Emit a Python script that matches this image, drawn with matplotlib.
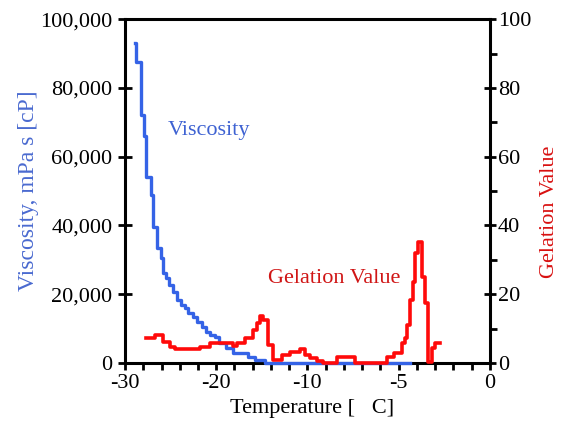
import matplotlib
matplotlib.use("Agg")
import matplotlib.pyplot as plt
import numpy as np
from matplotlib.ticker import FuncFormatter

plt.rcParams['font.family'] = ['Liberation Serif', 'DejaVu Serif']

# viscosity (mPa s), step data
visc_temp = [-28.90, -28.84, -28.28, -27.95, -27.67, -27.18, -26.90, -26.53,
             -26.09, -25.80, -25.51, -25.15, -24.71, -24.33, -23.90, -23.42,
             -23.06, -22.52, -22.08, -21.59, -21.12, -20.68, -20.14, -19.70,
             -18.93, -18.13, -16.52, -15.75, -14.66, -4.38]
visc_val = [93100, 87600, 72100, 66000, 54200, 48800, 39600, 33300,
            30400, 26200, 24700, 22700, 20700, 18300, 16900, 16000,
            14600, 13400, 12000, 10500, 9100, 8100, 7600, 5800,
            4400, 2900, 1800, 900, 100, 0]

# gelation value
gel_temp = [-27.70, -26.71, -25.80, -25.07, -24.52, -21.78, -20.68, -18.13,
            -17.73, -16.85, -15.94, -15.57, -15.21, -14.84, -14.30, -13.75,
            -12.83, -11.92, -10.82, -10.27, -9.86, -9.50, -9.13, -8.38,
            -7.40, -5.64, -5.26, -4.84, -4.66, -4.56, -4.38, -4.20,
            -4.08, -3.92, -3.74, -3.56, -3.38, -3.19, -3.01, -2.74]
gel_val = [7.2, 8.1, 6.2, 4.7, 4.0, 4.6, 5.7, 5.0,
           5.9, 7.2, 9.6, 11.5, 13.7, 12.5, 5.2, 0.9,
           2.3, 3.3, 4.0, 2.3, 1.4, 0.5, 0.0, 1.8,
           0.0, 1.8, 2.8, 5.7, 7.2, 11.0, 18.3, 23.6,
           31.9, 35.3, 25.1, 17.4, 0.4, 4.3, 5.7, 5.7]

x_major = [-30, -20, -10, -5, 0]
x_minor = [-28, -26, -24, -22, -18, -16, -14, -12, -9, -8, -7, -6, -4, -3, -2, -1]

blue = "#3563e6"
red = "#ff0a0a"


# the axis is squeezed below -10: 2 degrees per tick there, 1 degree above
def fwd(t):
    t = np.asarray(t, dtype=float)
    return np.where(t < -10, (t + 30) / 2, t + 20)


def inv(p):
    p = np.asarray(p, dtype=float)
    return np.where(p < 10, 2 * p - 30, p - 20)


fig = plt.figure(figsize=(5.61, 4.26), dpi=100)
ax = fig.add_axes([0.223, 0.148, 0.650, 0.807])
ax.set_xscale('function', functions=(fwd, inv))
ax.set_xlim(-30, 0)
ax.set_ylim(0, 100000)

ax.plot(visc_temp, visc_val, drawstyle='steps-post', color=blue, lw=2.4,
        clip_on=False, zorder=3)

ax.set_xticks(x_major)
ax.set_xticks(x_minor, minor=True)
ax.set_xticklabels([str(v) for v in x_major])
ax.set_yticks(np.arange(0, 100001, 20000))
ax.yaxis.set_major_formatter(FuncFormatter(lambda v, p: f"{v:,.0f}"))
ax.tick_params(axis='x', which='both', direction='out', length=5, width=2,
               labelsize=16, pad=3)
ax.tick_params(axis='y', which='major', direction='inout', length=10, width=2,
               labelsize=16, pad=4)
ax.yaxis.set_minor_locator(matplotlib.ticker.NullLocator())
for s in ax.spines.values():
    s.set_linewidth(2.2)
ax.spines['right'].set_visible(False)

ax.set_xlabel("Temperature [   C]", fontsize=16)
ax.xaxis.set_label_coords(0.512, -0.105)
ax.set_ylabel("Viscosity, mPa s [cP]", fontsize=17, color="#4a6ad0")
ax.yaxis.set_label_coords(-0.235, 0.5)
ax.text(-25.3, 67700, "Viscosity", color="#3e62d2", fontsize=16,
        ha='left', va='center')

ax2 = ax.twinx()
ax2.set_ylim(0, 100)
ax2.plot(gel_temp, gel_val, drawstyle='steps-post', color=red, lw=2.6,
         clip_on=False, zorder=3)
ax2.set_yticks(np.arange(0, 101, 20))
ax2.set_yticks(np.arange(10, 100, 20), minor=True)
ax2.tick_params(axis='y', which='major', direction='inout', length=8, width=2,
                labelsize=16, pad=2)
ax2.tick_params(axis='y', which='minor', direction='out', length=5, width=2)
for k in ['top', 'bottom', 'left']:
    ax2.spines[k].set_visible(False)
ax2.spines['right'].set_linewidth(2.2)
ax2.set_ylabel("Gelation Value", fontsize=16, color="#d81010")
ax2.yaxis.set_label_coords(1.138, 0.44)
ax2.text(-14.33, 24.7, "Gelation Value", color="#d01515", fontsize=16,
         ha='left', va='center')

fig.savefig("out.png", dpi=100)
